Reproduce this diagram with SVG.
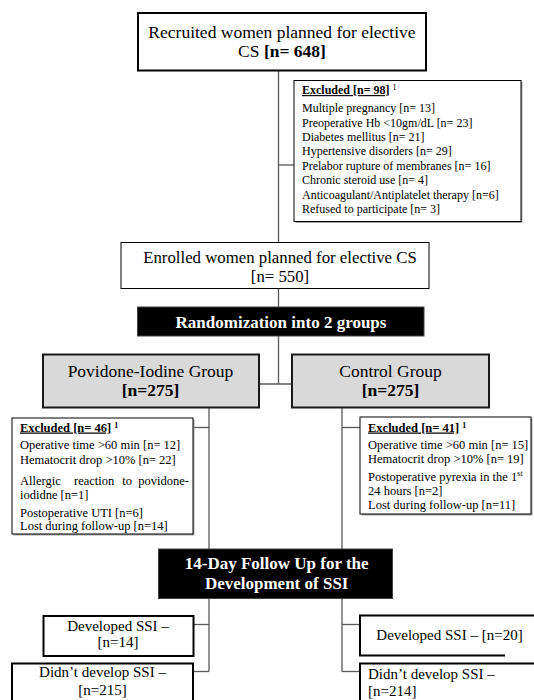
<svg xmlns="http://www.w3.org/2000/svg" width="534" height="700" viewBox="0 0 534 700" font-family="'Liberation Serif', 'Times New Roman', serif">
<style>
text{font-family:'Liberation Serif','Times New Roman',serif;fill:#000}
.c{text-anchor:middle}
.t17{font-size:17.5px}
.t17s{font-size:16.8px}
.t15{font-size:15px}
.ex{font-size:12px}
.ex2{font-size:12.5px}
.b{font-weight:bold}
.u{text-decoration:underline}
.w{fill:#fff;font-weight:bold;font-size:17px;text-anchor:middle}
.sup{font-size:8px}
.conn line{stroke:#595959;stroke-width:1.3}
.thick{fill:#fff;stroke:#000;stroke-width:2}
.thin{fill:#fff;stroke:#000;stroke-width:1}
.grp{fill:#d9d9d9;stroke:#1a1a1a;stroke-width:2}
.blk{fill:#000;stroke:#404040;stroke-width:1}
.sh{fill:#a6a6a6}
</style>
<g id="connectors" class="conn">
<line x1="278.5" y1="71" x2="278.5" y2="242"/>
<line x1="278.5" y1="165" x2="294" y2="165"/>
<line x1="278.5" y1="288" x2="278.5" y2="307"/>
<line x1="278.5" y1="336" x2="278.5" y2="384"/>
<line x1="259" y1="384" x2="292" y2="384"/>
<line x1="209" y1="408" x2="209" y2="549"/>
<line x1="193" y1="427.5" x2="209" y2="427.5"/>
<line x1="342" y1="408" x2="342" y2="549"/>
<line x1="342" y1="427.5" x2="360" y2="427.5"/>
<line x1="209" y1="598" x2="209" y2="671.5"/>
<line x1="193" y1="624.5" x2="209" y2="624.5"/>
<line x1="193" y1="671.5" x2="209" y2="671.5"/>
<line x1="342" y1="598" x2="342" y2="671.5"/>
<line x1="342" y1="624.5" x2="360" y2="624.5"/>
<line x1="342" y1="671.5" x2="360" y2="671.5"/>
</g>
<g id="recruited">
<rect class="thick" x="138" y="13" width="288" height="57.5"/>
<text class="t17 c" x="282" y="38">Recruited women planned for elective</text>
<text class="t17 c" x="282" y="57">CS <tspan class="b">[n= 648]</tspan></text>
</g>
<g id="excluded-top">
<rect class="sh" x="295.5" y="82" width="227" height="141"/>
<rect class="thin" x="294" y="80.5" width="227" height="141"/>
<text class="ex" x="302" y="94"><tspan class="b u">Excluded [n= 98]</tspan> <tspan class="sup" dy="-4">1</tspan></text>
<text class="ex" x="302" y="112">Multiple pregnancy [n= 13]</text>
<text class="ex" x="302" y="126.5">Preoperative Hb &lt;10gm/dL [n= 23]</text>
<text class="ex" x="302" y="141">Diabetes mellitus [n= 21]</text>
<text class="ex" x="302" y="155">Hypertensive disorders [n= 29]</text>
<text class="ex" x="302" y="169.5">Prelabor rupture of membranes [n= 16]</text>
<text class="ex" x="302" y="184">Chronic steroid use [n= 4]</text>
<text class="ex" x="302" y="198.5">Anticoagulant/Antiplatelet therapy [n=6]</text>
<text class="ex" x="302" y="213">Refused to participate [n= 3]</text>
</g>
<g id="enrolled">
<rect class="thin" x="121" y="242.5" width="308" height="46"/>
<text class="t17s c" x="280" y="262.5">Enrolled women planned for elective CS</text>
<text class="t17s c" x="280" y="281.5">[n= 550]</text>
</g>
<g id="randomization">
<rect class="blk" x="137.5" y="307" width="286.5" height="29"/>
<text class="w" x="281" y="328">Randomization into 2 groups</text>
</g>
<g id="povidone">
<rect class="grp" x="43" y="354.5" width="216" height="53"/>
<text class="t17 c" x="150.5" y="377">Povidone-Iodine Group</text>
<text class="t17 c b" x="150.5" y="396">[n=275]</text>
</g>
<g id="control">
<rect class="grp" x="292" y="354.5" width="197" height="53"/>
<text class="t17 c" x="390.5" y="377">Control Group</text>
<text class="t17 c b" x="390.5" y="396">[n=275]</text>
</g>
<g id="excluded-left">
<rect class="sh" x="13.5" y="419.5" width="181" height="116"/>
<rect class="thin" x="12" y="418" width="181" height="116"/>
<text class="ex2" x="20" y="431.5"><tspan class="b u">Excluded [n= 46]</tspan> <tspan class="sup b" dy="-4">1</tspan></text>
<text class="ex2" x="20" y="448.5">Operative time &gt;60 min [n= 12]</text>
<text class="ex2" x="20" y="464">Hematocrit drop &gt;10% [n= 22]</text>
<text class="ex2" y="485"><tspan x="20">Allergic</tspan> <tspan x="74">reaction</tspan> <tspan x="122.3">to</tspan> <tspan x="138.3">povidone-</tspan></text>
<text class="ex2" x="20" y="499">iodidne [n=1]</text>
<text class="ex2" x="20" y="516.5">Postoperative UTI [n=6]</text>
<text class="ex2" x="20" y="530">Lost during follow-up [n=14]</text>
</g>
<g id="excluded-right">
<rect class="sh" x="361.5" y="418.5" width="171" height="97"/>
<rect class="thin" x="360" y="417" width="171" height="97"/>
<text class="ex2" x="368" y="431.5"><tspan class="b u">Excluded [n= 41]</tspan> <tspan class="sup b" dy="-4">1</tspan></text>
<text class="ex2" x="368" y="448.5">Operative time &gt;60 min [n= 15]</text>
<text class="ex2" x="368" y="462.5">Hematocrit drop &gt;10% [n= 19]</text>
<text class="ex2" x="368" y="481">Postoperative pyrexia in the 1<tspan class="sup" dy="-5">st</tspan></text>
<text class="ex2" x="368" y="494.5">24 hours [n=2]</text>
<text class="ex2" x="368" y="508.5">Lost during follow-up [n=11]</text>
</g>
<g id="followup">
<rect class="blk" x="158.5" y="549" width="234" height="49.5"/>
<text class="w" x="276.7" y="568.5">14-Day Follow Up for the</text>
<text class="w" x="276.7" y="588.5">Development of SSI</text>
</g>
<g id="developed-left">
<rect class="thick" x="43.5" y="616" width="150" height="40"/>
<text class="t15 c" x="118" y="630.5">Developed SSI –</text>
<text class="t15 c" x="118" y="647">[n=14]</text>
</g>
<g id="didnt-left">
<rect class="thick" x="12" y="663.5" width="181" height="50"/>
<text class="t15 c" x="102.5" y="677">Didn’t develop SSI –</text>
<text class="t15 c" x="102.5" y="694.5">[n=215]</text>
</g>
<g id="developed-right">
<path d="M540 615.5 H360 V655.5 H505" fill="#fff" stroke="#000" stroke-width="2"/>
<text class="t15" x="376.3" y="639.5">Developed SSI – [n=20]</text>
</g>
<g id="didnt-right">
<path d="M540 663.5 H360 V710" fill="#fff" stroke="#000" stroke-width="2"/>
<text class="t15" x="368" y="678.5">Didn’t develop SSI –</text>
<text class="t15" x="368" y="696">[n=214]</text>
</g>
</svg>
